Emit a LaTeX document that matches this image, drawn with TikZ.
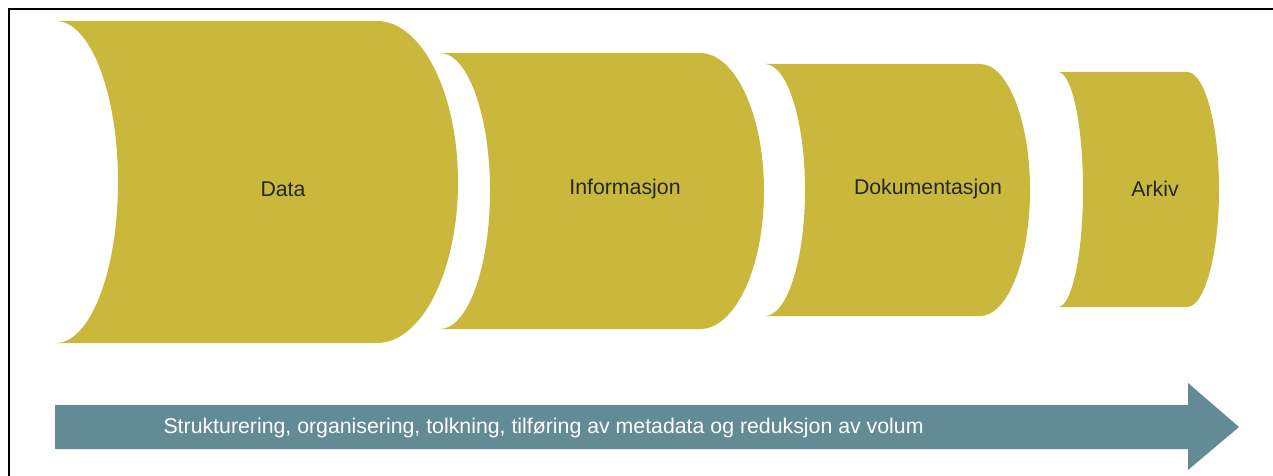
\documentclass[tikz,border=0pt]{standalone}
\usepackage{fontspec}
\setmainfont{Liberation Sans}
\usepackage{xcolor}
\usepackage{tikz}
\usetikzlibrary{calc,positioning}

\definecolor{stagegold}{RGB}{202,184,60}
\definecolor{flowteal}{RGB}{98,139,150}
\definecolor{labelgray}{RGB}{38,38,38}

% one stage: left tip, left depth, right end, right bulge, top, bottom
\newcommand{\stagepiece}[6]{%
  \pgfmathsetmacro{\ym}{(#5+#6)/2}%
  \pgfmathsetmacro{\hh}{(#6-#5)/2}%
  \fill[stage] (#1,#5) -- (#3,#5)
    .. controls ({#3+0.5523*#4},#5) and ({#3+#4},{\ym-0.5523*\hh}) .. ({#3+#4},\ym)
    .. controls ({#3+#4},{\ym+0.5523*\hh}) and ({#3+0.5523*#4},#6) .. (#3,#6)
    -- (#1,#6)
    .. controls ({#1+0.5523*#2},#6) and ({#1+#2},{\ym+0.5523*\hh}) .. ({#1+#2},\ym)
    .. controls ({#1+#2},{\ym-0.5523*\hh}) and ({#1+0.5523*#2},#5) .. cycle;%
}

\begin{document}
\begin{tikzpicture}[
	%	style def
    x=1pt, y=-1pt,
    stage/.style={fill=stagegold},
    stage label/.style={text=labelgray, font=\fontsize{21.3}{25}\selectfont},
    flow/.style={fill=flowteal},
    flow label/.style={text=white, font=\fontsize{21.3}{25}\selectfont, anchor=west},
    frame line/.style={line width=2.5pt, black}
    ]
	\useasboundingbox (0,0) rectangle (1273,476);

	% frame
	\draw[frame line] (9,476) coordinate (f1) -- (9,9) coordinate (f2) -- (1273,9) coordinate (f3);

	% stages
	\stagepiece{56}{62}{377}{81}{21}{343}
	\stagepiece{440}{50}{700}{64}{53}{329}
	\stagepiece{765}{40}{980}{50}{64}{316}
	\stagepiece{1058}{25}{1187}{32}{72}{307}

	\node[stage label] (data) at (283,189) {Data};
	\node[stage label] (info) at (625,189) {Informasjon};
	\node[stage label] (doc) at (928,189) {Dokumentasjon};
	\node[stage label] (arkiv) at (1155,189) {Arkiv};

	% big arrow
	\fill[flow] (55,405) coordinate (t1) -- (1188,405) -- (1188,383)
	    -- (1239,427) coordinate (tip) -- (1188,470) -- (1188,449) -- (55,449) -- cycle;
	\node[flow label] (process) at (160,428) {Strukturering, organisering, tolkning, tilføring av metadata og reduksjon av volum};

\end{tikzpicture}
\end{document}
